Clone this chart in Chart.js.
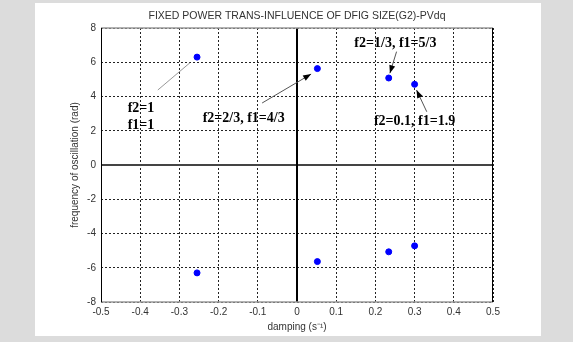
<!DOCTYPE html>
<html>
<head>
<meta charset="utf-8">
<script src="https://cdn.jsdelivr.net/npm/chart.js@4"></script>
<style>
  html, body { margin: 0; padding: 0; background: #dcdcdc; }
  canvas { display: block; }
</style>
</head>
<body>
<canvas id="chart" width="573" height="342"></canvas>
<script>
// eigenvalues: real part (damping) and imaginary part (frequency)
const damping   = [-0.255, 0.052, 0.234, 0.300, -0.255, 0.052, 0.234, 0.300];
const frequency = [ 6.30,  5.63,  5.08,  4.71, -6.30, -5.64, -5.07, -4.72];

const titleText = 'FIXED POWER TRANS-INFLUENCE OF DFIG SIZE(G2)-PVdq';
const xLabel = 'damping (s\u207B\u00B9)';
const yLabel = 'frequency of oscillation (rad)';

// case labels, placed in data coordinates
const noteTexts = [['f2=1', 'f1=1'], ['f2=2/3, f1=4/3'], ['f2=1/3, f1=5/3'], ['f2=0.1, f1=1.9']];
const noteX = [-0.398, -0.136, 0.251, 0.300];
const noteY = [3.33, 2.72, 7.09, 2.54];
// pointer lines: [x0, y0, x1, y1]
const pointers = [
  [-0.355, 4.38, -0.273, 5.97],
  [-0.089, 3.62, 0.036, 5.31],
  [0.254, 6.62, 0.237, 5.36],
  [0.331, 3.11, 0.305, 4.38],
];
const pointerHead = [false, true, true, true];

const sansFont = '"Liberation Sans", Arial, sans-serif';

// ── Background panel, title, frame, zero lines, notes ─────
const decor = {
  id: 'decor',
  beforeDraw(chart) {
    const { ctx, chartArea: a } = chart;
    ctx.save();
    ctx.fillStyle = '#dcdcdc';
    ctx.fillRect(0, 0, chart.width, chart.height);
    ctx.fillStyle = '#ffffff';
    ctx.fillRect(35, 3, 506, 333);
    ctx.fillStyle = '#333';
    ctx.font = '10.5px ' + sansFont;
    ctx.textAlign = 'center';
    ctx.textBaseline = 'middle';
    ctx.fillText(titleText, (a.left + a.right) / 2, 16);
    ctx.restore();
  },
  beforeDatasetsDraw(chart) {
    const { ctx, chartArea: a, scales: { x, y } } = chart;
    ctx.save();
    // zero axes
    ctx.strokeStyle = '#444';
    ctx.lineWidth = 2;
    ctx.beginPath();
    ctx.moveTo(a.left, y.getPixelForValue(0));
    ctx.lineTo(a.right, y.getPixelForValue(0));
    ctx.stroke();
    ctx.strokeStyle = '#000';
    ctx.beginPath();
    ctx.moveTo(x.getPixelForValue(0), a.top);
    ctx.lineTo(x.getPixelForValue(0), a.bottom);
    ctx.stroke();
    // frame
    ctx.lineWidth = 1.5;
    ctx.strokeStyle = '#999';
    ctx.beginPath();
    ctx.moveTo(a.left, a.top); ctx.lineTo(a.right, a.top);
    ctx.moveTo(a.left, a.bottom); ctx.lineTo(a.right, a.bottom);
    ctx.stroke();
    ctx.lineWidth = 1;
    ctx.strokeStyle = '#000';
    ctx.beginPath();
    ctx.moveTo(a.left + 0.5, a.top); ctx.lineTo(a.left + 0.5, a.bottom);
    ctx.moveTo(a.right - 0.5, a.top); ctx.lineTo(a.right - 0.5, a.bottom);
    ctx.stroke();
    ctx.restore();
  },
  afterDatasetsDraw(chart) {
    const { ctx, scales: { x, y } } = chart;
    ctx.save();
    pointers.forEach((p, i) => {
      const x0 = x.getPixelForValue(p[0]), y0 = y.getPixelForValue(p[1]);
      const x1 = x.getPixelForValue(p[2]), y1 = y.getPixelForValue(p[3]);
      ctx.strokeStyle = pointerHead[i] ? '#555' : '#999';
      ctx.lineWidth = 1;
      ctx.beginPath();
      ctx.moveTo(x0, y0);
      ctx.lineTo(x1, y1);
      ctx.stroke();
      if (pointerHead[i]) {
        const ang = Math.atan2(y1 - y0, x1 - x0);
        const len = 8, half = 3;
        ctx.fillStyle = '#000';
        ctx.beginPath();
        ctx.moveTo(x1, y1);
        ctx.lineTo(x1 - len * Math.cos(ang) + half * Math.sin(ang), y1 - len * Math.sin(ang) - half * Math.cos(ang));
        ctx.lineTo(x1 - len * Math.cos(ang) - half * Math.sin(ang), y1 - len * Math.sin(ang) + half * Math.cos(ang));
        ctx.closePath();
        ctx.fill();
      }
    });
    ctx.fillStyle = '#000';
    ctx.font = 'bold 14px "Liberation Serif", "Times New Roman", serif';
    ctx.textAlign = 'center';
    ctx.textBaseline = 'middle';
    noteTexts.forEach((lines, i) => {
      const cx = x.getPixelForValue(noteX[i]);
      const cy = y.getPixelForValue(noteY[i]);
      lines.forEach((t, k) => ctx.fillText(t, cx, cy + k * 17));
    });
    ctx.restore();
  }
};

const tickFont = { family: sansFont, size: 10 };

new Chart(document.getElementById('chart'), {
  type: 'scatter',
  data: {
    datasets: [{
      data: damping.map((d, i) => ({ x: d, y: frequency[i] })),
      backgroundColor: '#0000ff',
      borderColor: '#0000ff',
      pointRadius: 3,
      pointHoverRadius: 3,
    }]
  },
  options: {
    responsive: false,
    animation: false,
    layout: { padding: { left: 0, right: 80, top: 28, bottom: 0 } },
    plugins: {
      legend: { display: false },
      tooltip: { enabled: false },
      title: { display: false },
    },
    scales: {
      x: {
        type: 'linear',
        min: -0.5, max: 0.5,
        afterFit: s => { s.height = 40; },
        ticks: { stepSize: 0.1, color: '#333', font: tickFont, padding: 4, maxRotation: 0 },
        grid: { color: '#222', lineWidth: 1, drawTicks: false },
        border: { display: false, dash: [2, 2] },
        title: { display: true, text: xLabel, color: '#333', font: tickFont, padding: { top: 0, bottom: 9 } },
      },
      y: {
        type: 'linear',
        min: -8, max: 8,
        afterFit: s => { s.width = 101; },
        ticks: { stepSize: 2, color: '#333', font: tickFont, padding: 5 },
        grid: { color: '#222', lineWidth: 1, drawTicks: false },
        border: { display: false, dash: [2, 2] },
        title: { display: true, text: yLabel, color: '#333', font: tickFont, padding: { top: 69, bottom: 0 } },
      }
    }
  },
  plugins: [decor]
});
</script>
</body>
</html>
